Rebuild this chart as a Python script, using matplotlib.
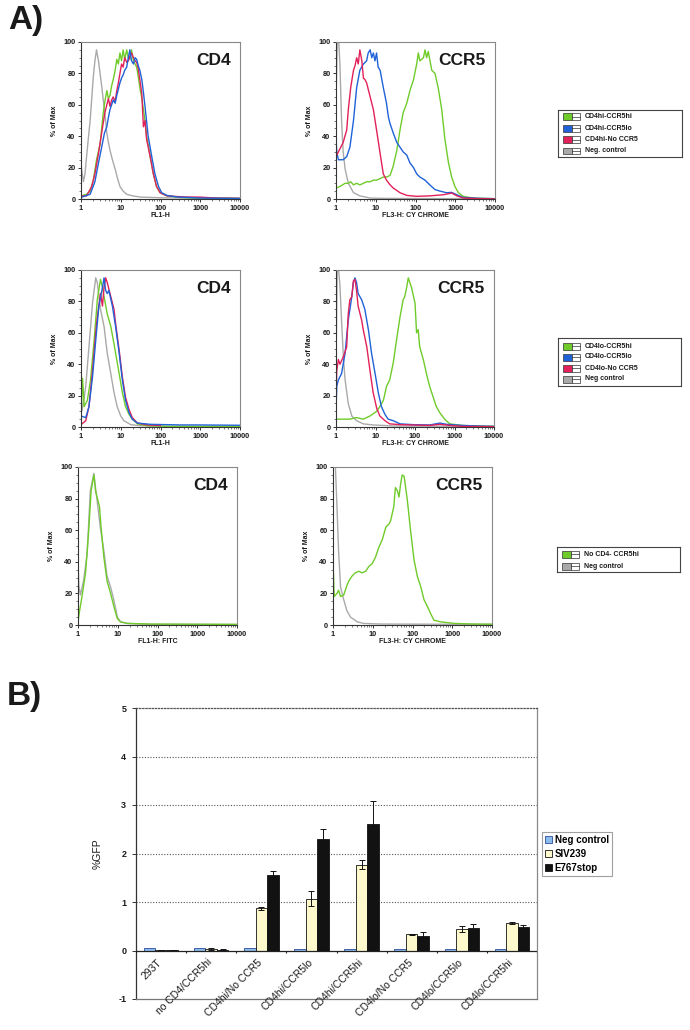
import numpy as np
import matplotlib
matplotlib.use('Agg')
import matplotlib.pyplot as plt
from matplotlib.patches import Rectangle, Patch
from matplotlib.ticker import FixedLocator, FixedFormatter, MultipleLocator, LogLocator, NullFormatter

plt.rcParams['font.family'] = ['Liberation Sans', 'DejaVu Sans']
plt.rcParams['axes.unicode_minus'] = False

# ---------------- DATA: flow histograms (log10 fluorescence, % of Max) ----------------
# Row 1 - CD4 (FL1-H)
r1_cd4_gray_log = [0, 0.02, 0.06, 0.1, 0.14, 0.19, 0.23, 0.27, 0.31, 0.35, 0.39, 0.44, 0.48, 0.52, 0.56, 0.61, 0.65, 0.69, 0.73, 0.79, 0.86, 0.92, 0.98, 1.06, 1.15, 1.3, 1.5, 2.0, 3.0, 4.0]
r1_cd4_gray_pct = [22, 18, 11, 16, 27, 40, 50, 64, 78, 88, 95, 88, 80, 72, 63, 52, 42, 36, 31, 25, 19, 13, 8, 5, 3, 2, 1.2, 0.8, 0.5, 0.4]
r1_cd4_green_log = [0, 0.14, 0.23, 0.31, 0.39, 0.48, 0.56, 0.6, 0.65, 0.69, 0.73, 0.77, 0.81, 0.86, 0.9, 0.94, 0.98, 1.02, 1.06, 1.1, 1.15, 1.19, 1.23, 1.27, 1.32, 1.36, 1.4, 1.44, 1.48, 1.53, 1.57, 1.61, 1.65, 1.7, 1.74, 1.82, 1.9, 1.99, 2.16, 2.5, 3.0, 4.0]
r1_cd4_green_pct = [2, 3, 5, 12, 25, 35, 55, 62, 69, 64, 66, 72, 76, 82, 89, 86, 93, 88, 95, 89, 95, 90, 89, 95, 88, 86, 84, 78, 71, 64, 57, 50, 40, 33, 27, 16, 8, 4, 2, 1, 0.6, 0.4]
r1_cd4_red_log = [0, 0.14, 0.27, 0.35, 0.44, 0.52, 0.6, 0.65, 0.69, 0.73, 0.77, 0.81, 0.86, 0.9, 0.94, 0.98, 1.02, 1.06, 1.1, 1.15, 1.19, 1.23, 1.27, 1.32, 1.36, 1.4, 1.44, 1.48, 1.53, 1.57, 1.61, 1.65, 1.74, 1.82, 1.9, 1.99, 2.16, 2.6, 3.0, 3.4, 4.0]
r1_cd4_red_pct = [2, 2, 8, 16, 29, 42, 55, 60, 64, 59, 63, 65, 62, 69, 74, 80, 86, 84, 90, 87, 88, 91, 93, 90, 88, 87, 83, 76, 67, 46, 50, 38, 27, 16, 8, 4, 2, 1.3, 1.2, 0.6, 0.4]
r1_cd4_blue_log = [0, 0.23, 0.35, 0.44, 0.52, 0.59, 0.65, 0.69, 0.73, 0.77, 0.81, 0.86, 0.9, 0.94, 0.98, 1.02, 1.06, 1.1, 1.15, 1.19, 1.23, 1.27, 1.32, 1.36, 1.4, 1.44, 1.48, 1.53, 1.57, 1.61, 1.69, 1.78, 1.86, 1.95, 2.03, 2.16, 2.41, 3.0, 4.0]
r1_cd4_blue_pct = [1, 3, 11, 23, 33, 42, 46, 52, 57, 60, 63, 61, 66, 70, 74, 77, 79, 82, 84, 90, 95, 88, 86, 90, 89, 85, 82, 76, 68, 59, 40, 27, 16, 8, 4, 2.3, 1.3, 0.6, 0.3]

# Row 1 - CCR5 (FL3-H)
r1_ccr5_gray_log = [0, 0.03, 0.06, 0.1, 0.14, 0.18, 0.23, 0.31, 0.44, 0.6, 0.86, 1.2, 2.0, 4.0]
r1_ccr5_gray_pct = [60, 100, 105, 85, 50, 30, 19, 10, 4, 2, 0.6, 0.4, 0.3, 0.2]
r1_ccr5_red_log = [0, 0.1, 0.18, 0.27, 0.31, 0.37, 0.44, 0.48, 0.52, 0.56, 0.6, 0.65, 0.69, 0.73, 0.77, 0.86, 0.94, 1.02, 1.11, 1.19, 1.27, 1.36, 1.44, 1.61, 1.78, 2.03, 2.36, 2.7, 2.91, 3.04, 3.2, 3.62, 4.0]
r1_ccr5_red_pct = [27, 32, 36, 44, 57, 71, 82, 85, 90, 86, 95, 88, 77, 76, 74, 65, 57, 44, 29, 16, 12, 9, 7, 4, 2.3, 1.7, 2, 2.7, 3.8, 2, 0.6, 0.2, 0.1]
r1_ccr5_blue_log = [0, 0.02, 0.06, 0.18, 0.27, 0.35, 0.44, 0.52, 0.6, 0.69, 0.77, 0.81, 0.86, 0.9, 0.94, 0.98, 1.02, 1.06, 1.11, 1.19, 1.27, 1.32, 1.36, 1.44, 1.53, 1.61, 1.69, 1.78, 1.86, 1.95, 2.03, 2.11, 2.24, 2.36, 2.49, 2.62, 2.78, 2.91, 3.04, 3.2, 3.62, 4.0]
r1_ccr5_blue_pct = [38, 30, 25, 25, 27, 33, 50, 71, 82, 86, 88, 93, 95, 90, 93, 88, 93, 84, 82, 71, 61, 52, 48, 42, 36, 33, 30, 28, 23, 20, 16, 14, 12, 9, 6, 5, 4, 4.2, 2.7, 1, 0.4, 0.2]
r1_ccr5_green_log = [0, 0.1, 0.23, 0.31, 0.37, 0.44, 0.52, 0.6, 0.69, 0.77, 0.86, 0.94, 1.02, 1.11, 1.19, 1.27, 1.36, 1.44, 1.53, 1.61, 1.69, 1.78, 1.86, 1.95, 2.03, 2.07, 2.11, 2.2, 2.24, 2.28, 2.32, 2.41, 2.49, 2.57, 2.66, 2.74, 2.83, 2.91, 2.99, 3.08, 3.2, 3.45, 4.0]
r1_ccr5_green_pct = [7, 8, 10, 10, 11, 9, 10, 9, 10, 11, 11, 12, 12, 13, 14, 14, 15, 21, 31, 44, 55, 61, 69, 76, 86, 93, 88, 90, 95, 90, 94, 82, 80, 71, 57, 38, 23, 14, 8, 4, 1.7, 0.6, 0.2]

# Row 2 - CD4
r2_cd4_gray_log = [0, 0.02, 0.06, 0.12, 0.2, 0.29, 0.37, 0.41, 0.49, 0.58, 0.66, 0.75, 0.83, 0.91, 1.0, 1.08, 1.25, 1.5, 2.17, 4.0]
r2_cd4_gray_pct = [22, 10, 15, 26, 51, 79, 95, 92, 75, 64, 47, 34, 22, 13, 7, 4, 1.5, 0.8, 0.4, 0.3]
r2_cd4_green_log = [0, 0.04, 0.08, 0.16, 0.24, 0.33, 0.41, 0.49, 0.54, 0.58, 0.66, 0.75, 0.83, 0.87, 0.96, 1.04, 1.12, 1.21, 1.29, 1.42, 1.67, 2.17, 4.0]
r2_cd4_green_pct = [5, 31, 13, 17, 30, 55, 81, 94, 89, 83, 72, 64, 53, 47, 34, 22, 13, 8, 5, 2, 0.8, 0.4, 0.3]
r2_cd4_red_log = [0, 0.12, 0.2, 0.29, 0.37, 0.41, 0.49, 0.54, 0.58, 0.62, 0.66, 0.75, 0.83, 0.87, 0.96, 1.04, 1.12, 1.21, 1.29, 1.42, 1.67, 2.0]
r2_cd4_red_pct = [1.5, 4, 13, 36, 60, 70, 85, 77, 89, 95, 92, 83, 75, 66, 49, 32, 19, 11, 6, 2.5, 1.3, 1.0]
r2_cd4_blue_log = [0, 0.12, 0.2, 0.29, 0.37, 0.45, 0.54, 0.58, 0.62, 0.66, 0.7, 0.79, 0.87, 0.96, 1.04, 1.12, 1.21, 1.29, 1.42, 1.75, 2.5, 3.0, 4.0]
r2_cd4_blue_pct = [7, 6, 13, 32, 55, 77, 89, 95, 87, 85, 87, 77, 64, 47, 30, 17, 9, 5, 2.5, 1.7, 1.3, 1.3, 1.1]

# Row 2 - CCR5
r2_ccr5_gray_log = [0, 0.03, 0.06, 0.1, 0.14, 0.19, 0.23, 0.31, 0.4, 0.52, 0.69, 0.94, 1.53, 4.0]
r2_ccr5_gray_pct = [40, 100, 102, 90, 68, 43, 30, 15, 7, 4, 2, 1.3, 0.6, 0.4]
r2_ccr5_red_log = [0, 0.02, 0.06, 0.1, 0.19, 0.27, 0.31, 0.35, 0.4, 0.44, 0.48, 0.52, 0.56, 0.61, 0.65, 0.69, 0.78, 0.86, 0.94, 1.03, 1.11, 1.24, 1.36, 1.62, 2.37, 2.63, 2.88, 3.2, 4.0]
r2_ccr5_red_pct = [20, 36, 43, 40, 45, 51, 72, 81, 83, 93, 94, 87, 77, 72, 68, 62, 51, 36, 22, 12, 7, 4, 2, 1.5, 1, 1.7, 1, 0.4, 0.2]
r2_ccr5_blue_log = [0, 0.02, 0.06, 0.14, 0.23, 0.31, 0.4, 0.44, 0.48, 0.52, 0.56, 0.65, 0.73, 0.82, 0.9, 0.99, 1.07, 1.15, 1.24, 1.32, 1.45, 1.62, 1.95, 2.37, 2.63, 2.8, 3.2, 3.64, 4.0]
r2_ccr5_blue_pct = [10, 26, 30, 34, 47, 68, 83, 92, 95, 92, 85, 81, 75, 62, 47, 34, 22, 13, 8, 5, 4, 2, 1.5, 1.3, 2.5, 1.7, 1, 0.6, 0.4]
r2_ccr5_green_log = [0, 0.19, 0.35, 0.52, 0.69, 0.86, 1.03, 1.11, 1.2, 1.28, 1.36, 1.45, 1.53, 1.62, 1.7, 1.74, 1.79, 1.83, 1.87, 1.91, 2.0, 2.04, 2.08, 2.12, 2.21, 2.29, 2.37, 2.46, 2.54, 2.63, 2.75, 2.88, 3.2, 3.64, 4.0]
r2_ccr5_green_pct = [5, 5, 5, 6, 5, 7, 10, 13, 17, 26, 30, 41, 55, 70, 81, 83, 89, 95, 92, 89, 79, 60, 62, 51, 43, 34, 26, 19, 13, 9, 5, 2, 1, 0.6, 0.4]

# Row 3 - CD4 (FL1-H: FITC)
r3_cd4_gray_log = [0, 0.02, 0.06, 0.14, 0.23, 0.31, 0.4, 0.44, 0.48, 0.56, 0.65, 0.73, 0.82, 0.9, 0.99, 1.07, 1.24, 1.83, 4.0]
r3_cd4_gray_pct = [43, 25, 19, 28, 45, 85, 96, 87, 79, 62, 47, 31, 24, 16, 5, 2, 1, 0.4, 0.3]
r3_cd4_green_log = [0, 0.04, 0.1, 0.19, 0.27, 0.33, 0.4, 0.44, 0.48, 0.54, 0.58, 0.65, 0.73, 0.82, 0.9, 0.99, 1.07, 1.24, 1.83, 4.0]
r3_cd4_green_pct = [2, 9, 18, 33, 60, 85, 95, 85, 81, 75, 62, 43, 28, 20, 12, 4, 2, 1, 0.6, 0.4]

# Row 3 - CCR5
r3_ccr5_gray_log = [0, 0.06, 0.1, 0.14, 0.19, 0.27, 0.35, 0.44, 0.61, 0.77, 1.2, 4.0]
r3_ccr5_gray_pct = [100, 100, 75, 47, 24, 16, 9, 5, 2, 1, 0.6, 0.4]
r3_ccr5_green_log = [0, 0.01, 0.03, 0.1, 0.14, 0.19, 0.27, 0.35, 0.4, 0.48, 0.56, 0.65, 0.73, 0.82, 0.9, 0.99, 1.07, 1.15, 1.24, 1.33, 1.41, 1.45, 1.53, 1.57, 1.62, 1.66, 1.7, 1.74, 1.79, 1.87, 1.95, 2.04, 2.12, 2.21, 2.29, 2.37, 2.46, 2.54, 2.71, 3.05, 3.56, 4.0]
r3_ccr5_green_pct = [0, 33, 18, 20, 22, 18, 19, 25, 28, 31, 33, 34, 33, 34, 37, 39, 43, 49, 54, 62, 64, 66, 75, 87, 85, 81, 89, 95, 94, 79, 60, 41, 31, 24, 16, 12, 7, 3, 2, 1, 0.6, 0.5]

legend1_labels = ['CD4hi-CCR5hi', 'CD4hi-CCR5lo', 'CD4hi-No CCR5', 'Neg. control']
legend2_labels = ['CD4lo-CCR5hi', 'CD4lo-CCR5lo', 'CD4lo-No CCR5', 'Neg control']
legend3_labels = ['No CD4- CCR5hi', 'Neg control']
x_tick_values = [1, 10, 100, 1000, 10000]
x_tick_labels = ['1', '10', '100', '1000', '10000']

# ---------------- DATA: bar chart (%GFP) ----------------
bar_categories = ['293T', 'no CD4/CCR5hi', 'CD4hi/No CCR5', 'CD4hi/CCR5lo', 'CD4hi/CCR5hi',
                  'CD4lo/No CCR5', 'CD4lo/CCR5lo', 'CD4lo/CCR5hi']
bar_series = ['Neg control', 'SIV239', 'E767stop']
neg_control = [0.05, 0.05, 0.05, 0.04, 0.04, 0.04, 0.04, 0.04]
siv239 = [0.005, 0.04, 0.875, 1.07, 1.77, 0.335, 0.445, 0.565]
siv239_err = [0, 0.02, 0.03, 0.15, 0.09, 0.01, 0.07, 0.02]
e767stop = [0.005, 0.02, 1.55, 2.30, 2.61, 0.305, 0.46, 0.485]
e767stop_err = [0, 0.01, 0.08, 0.21, 0.47, 0.07, 0.08, 0.04]

# ---------------- STYLE ----------------
W, H = 690, 1030
GREEN = '#6fcb2a'
BLUE = '#1f62d8'
RED = '#e2205a'
GRAY = '#a9a9a9'
TXT = '#1a1a1a'

fig = plt.figure(figsize=(W / 100, H / 100), dpi=100)


def px_rect(x0, y0, x1, y1):
    return [x0 / W, 1 - y1 / H, (x1 - x0) / W, (y1 - y0) / H]


def hist_panel(box, curves, title, xlabel):
    ax = fig.add_axes(px_rect(*box))
    for logs, pct, col in curves:
        ax.plot(10 ** np.asarray(logs, dtype=float), pct, color=col, lw=1.0,
                solid_joinstyle='round')
    ax.set_xscale('log')
    ax.set_xlim(1, 10000)
    ax.set_ylim(0, 100)
    ax.xaxis.set_major_locator(FixedLocator(x_tick_values))
    ax.xaxis.set_major_formatter(FixedFormatter(x_tick_labels))
    ax.xaxis.set_minor_locator(LogLocator(base=10, subs=np.arange(2, 10)))
    ax.xaxis.set_minor_formatter(NullFormatter())
    ax.yaxis.set_major_locator(MultipleLocator(20))
    ax.yaxis.set_minor_locator(MultipleLocator(5))
    ax.tick_params(which='major', direction='out', length=2.5, width=0.7, labelsize=5.3,
                   pad=1.5, colors='#333', labelcolor=TXT)
    ax.tick_params(which='minor', direction='out', length=1.5, width=0.5, colors='#444')
    for lab in ax.get_xticklabels() + ax.get_yticklabels():
        lab.set_fontweight('bold')
    ax.spines['left'].set_color('#333')
    ax.spines['bottom'].set_color('#333')
    ax.spines['top'].set_color('#888')
    ax.spines['right'].set_color('#888')
    for s in ax.spines.values():
        s.set_linewidth(0.8)
    ax.set_ylabel('% of Max', fontsize=5, fontweight='bold', color=TXT, labelpad=4)
    ax.set_xlabel(xlabel, fontsize=5, fontweight='bold', color=TXT, labelpad=0.5)
    ax.text(0.94, 0.88, title, transform=ax.transAxes, ha='right', va='center',
            fontsize=12.5, fontweight='bold', color=TXT)
    return ax


def flow_legend(box, labels, colors, row0, dy):
    x0, y0, x1, y1 = box
    lax = fig.add_axes(px_rect(x0, y0, x1, y1))
    lax.set_xlim(0, x1 - x0)
    lax.set_ylim(y1 - y0, 0)
    lax.set_xticks([])
    lax.set_yticks([])
    for s in lax.spines.values():
        s.set_color('#444')
        s.set_linewidth(0.8)
    for i, (lab, col) in enumerate(zip(labels, colors)):
        yc = row0 + i * dy
        lax.add_patch(Rectangle((5, yc - 3.5), 9, 7, facecolor=col, edgecolor='#333', lw=0.5))
        lax.add_patch(Rectangle((14, yc - 3.5), 8, 7, facecolor='white', edgecolor='#333', lw=0.5))
        lax.plot([14, 22], [yc, yc], color='#333', lw=0.5)
        lax.text(27, yc, lab, fontsize=5, fontweight='bold', va='center', ha='left', color=TXT)


# ---------------- Panel A ----------------
fig.text(8 / W, 1 - 21 / H, 'A)', fontsize=24, fontweight='bold', va='center', ha='left', color=TXT)

hist_panel((81, 42, 240, 199),
           [(r1_cd4_gray_log, r1_cd4_gray_pct, GRAY),
            (r1_cd4_green_log, r1_cd4_green_pct, GREEN),
            (r1_cd4_red_log, r1_cd4_red_pct, RED),
            (r1_cd4_blue_log, r1_cd4_blue_pct, BLUE)],
           'CD4', 'FL1-H')
hist_panel((336, 42, 495, 199),
           [(r1_ccr5_gray_log, r1_ccr5_gray_pct, GRAY),
            (r1_ccr5_green_log, r1_ccr5_green_pct, GREEN),
            (r1_ccr5_blue_log, r1_ccr5_blue_pct, BLUE),
            (r1_ccr5_red_log, r1_ccr5_red_pct, RED)],
           'CCR5', 'FL3-H: CY CHROME')
flow_legend((558, 110, 682, 157), legend1_labels, [GREEN, BLUE, RED, GRAY], 6.5, 11.5)

hist_panel((81, 270, 240, 427),
           [(r2_cd4_gray_log, r2_cd4_gray_pct, GRAY),
            (r2_cd4_green_log, r2_cd4_green_pct, GREEN),
            (r2_cd4_red_log, r2_cd4_red_pct, RED),
            (r2_cd4_blue_log, r2_cd4_blue_pct, BLUE)],
           'CD4', 'FL1-H')
hist_panel((336, 270, 494, 427),
           [(r2_ccr5_gray_log, r2_ccr5_gray_pct, GRAY),
            (r2_ccr5_green_log, r2_ccr5_green_pct, GREEN),
            (r2_ccr5_blue_log, r2_ccr5_blue_pct, BLUE),
            (r2_ccr5_red_log, r2_ccr5_red_pct, RED)],
           'CCR5', 'FL3-H: CY CHROME')
flow_legend((558, 338, 681, 386), legend2_labels, [GREEN, BLUE, RED, GRAY], 8, 11)

hist_panel((78, 467, 237, 625),
           [(r3_cd4_gray_log, r3_cd4_gray_pct, GRAY),
            (r3_cd4_green_log, r3_cd4_green_pct, GREEN)],
           'CD4', 'FL1-H: FITC')
hist_panel((333, 467, 492, 625),
           [(r3_ccr5_gray_log, r3_ccr5_gray_pct, GRAY),
            (r3_ccr5_green_log, r3_ccr5_green_pct, GREEN)],
           'CCR5', 'FL3-H: CY CHROME')
flow_legend((557, 547, 680, 572), legend3_labels, [GREEN, GRAY], 7, 12)

# ---------------- Panel B ----------------
fig.text(7 / W, 1 - 696 / H, 'B)', fontsize=24, fontweight='bold', va='center', ha='left', color=TXT)

axb = fig.add_axes(px_rect(136, 708, 537, 999))
xpos = np.arange(len(bar_categories))
bw = 0.23
ekw = dict(elinewidth=0.7, capsize=2, capthick=0.7, ecolor='#111')
axb.bar(xpos - bw, neg_control, bw, color='#8cbcec', edgecolor='#2c4c9c', lw=0.6, zorder=3)
axb.bar(xpos, siv239, bw, yerr=siv239_err, color='#fdf9cd', edgecolor='#111', lw=0.6,
        error_kw=ekw, zorder=3)
axb.bar(xpos + bw, e767stop, bw, yerr=e767stop_err, color='#121212', edgecolor='#111',
        lw=0.6, error_kw=ekw, zorder=3)
axb.set_xlim(-0.5, len(bar_categories) - 0.5)
axb.set_ylim(-1, 5)
axb.set_yticks(range(-1, 6))
axb.set_xticks([])
for yv in range(1, 5):
    axb.axhline(yv, color='#555', lw=0.8, ls=(0, (1, 1.5)), zorder=1)
axb.axhline(0, color='#222', lw=0.9, zorder=4)
axb.vlines(np.arange(len(bar_categories) + 1) - 0.5, -0.06, 0, color='#222', lw=0.8, zorder=4)
axb.spines['top'].set_linestyle((0, (1, 1.5)))
axb.spines['top'].set_color('#555')
axb.spines['right'].set_color('#888')
axb.spines['bottom'].set_color('#777')
axb.spines['left'].set_color('#333')
for s in axb.spines.values():
    s.set_linewidth(0.9)
axb.tick_params(axis='y', direction='out', length=3, width=0.7, labelsize=6.5, pad=4, colors='#333',
                labelcolor=TXT)
for lab in axb.get_yticklabels():
    lab.set_fontweight('bold')
axb.set_ylabel('%GFP', fontsize=7.5, color=TXT, labelpad=11)
for xi, lab in zip(xpos, bar_categories):
    axb.text(xi - 0.08, -0.14, lab, rotation=45, rotation_mode='anchor', ha='right', va='top',
             fontsize=7.5, color=TXT)

handles = [Patch(facecolor='#8cbcec', edgecolor='#2c4c9c', lw=0.6),
           Patch(facecolor='#fdf9cd', edgecolor='#111', lw=0.6),
           Patch(facecolor='#121212', edgecolor='#111', lw=0.6)]
leg = fig.legend(handles, bar_series, loc='upper left', bbox_to_anchor=(542 / W, 1 - 832 / H),
                 frameon=True, fancybox=False, edgecolor='#888',
                 handlelength=0.75, handleheight=0.75, handletextpad=0.25, borderpad=0.3,
                 labelspacing=0.4, borderaxespad=0, prop={'weight': 'bold', 'size': 7})
leg.get_frame().set_linewidth(0.8)

fig.savefig('out.png', dpi=100, facecolor='white')
